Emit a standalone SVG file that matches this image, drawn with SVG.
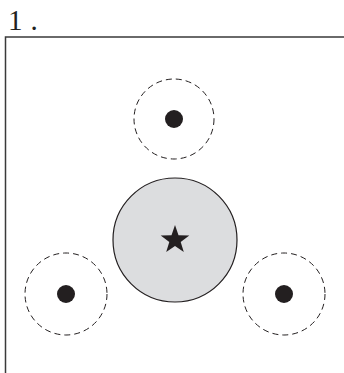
<svg xmlns="http://www.w3.org/2000/svg" width="344" height="373" viewBox="0 0 344 373">
<style>
.halo{fill:none;stroke:#231f20;stroke-width:1;stroke-dasharray:6 4}
.dot{fill:#231f20}
</style>
<rect width="344" height="373" fill="#fff"/>
<text x="8" y="30" font-family="Liberation Serif, serif" font-size="29" fill="#231f20" font-weight="300">1<tspan dx="8">.</tspan></text>
<path d="M5.5 373 V37 H344" fill="none" stroke="#3a3a3a" stroke-width="1.5"/>
<g id="center">
<circle cx="175" cy="240" r="62" fill="#dcdddf" stroke="#231f20" stroke-width="1.2"/>
<polygon fill="#231f20" transform="translate(175,240)" points="0,-15 3.5,-4.8 14.3,-4.6 5.7,1.9 8.8,12.1 0,6 -8.8,12.1 -5.7,1.9 -14.3,-4.6 -3.5,-4.8"/>
</g>
<g id="top">
<circle class="halo" cx="174" cy="119" r="40"/>
<circle class="dot" cx="174" cy="119" r="9"/>
</g>
<g id="left">
<circle class="halo" cx="66" cy="294" r="41"/>
<circle class="dot" cx="66" cy="294" r="9"/>
</g>
<g id="right">
<circle class="halo" cx="284" cy="294" r="41"/>
<circle class="dot" cx="284" cy="294" r="9"/>
</g>
</svg>
